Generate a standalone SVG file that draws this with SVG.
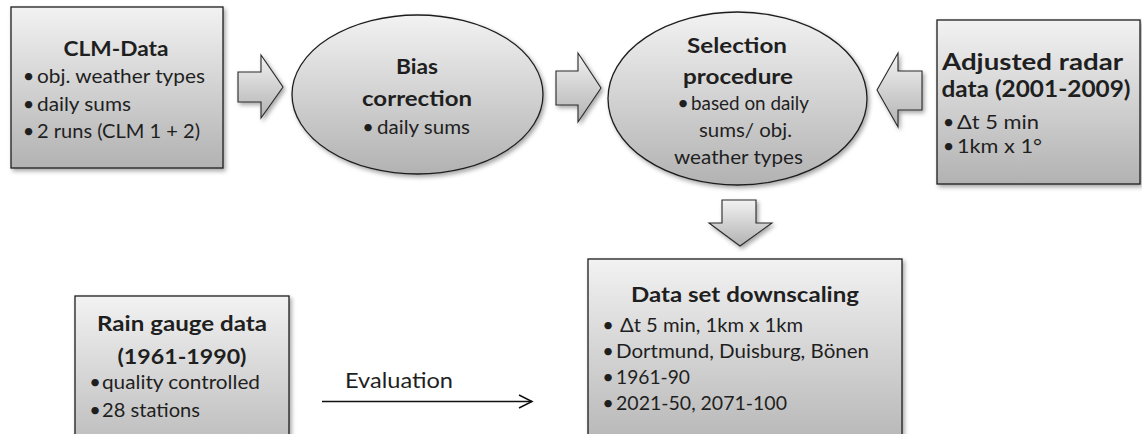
<svg xmlns="http://www.w3.org/2000/svg" width="1142" height="434" viewBox="0 0 1142 434">
<defs>
<linearGradient id="g" x1="0" y1="0" x2="0" y2="1">
<stop offset="0" stop-color="#f2f2f2"/>
<stop offset="1" stop-color="#b2b2b2"/>
</linearGradient>
<filter id="sh" x="-10%" y="-10%" width="125%" height="125%">
<feDropShadow dx="2" dy="2.5" stdDeviation="2" flood-color="#000" flood-opacity="0.35"/>
</filter>
</defs>
<style>
.shape{fill:url(#g);stroke:#1e1e1e;stroke-width:1.3;filter:url(#sh)}
.arr{fill:url(#g);stroke:#2a2a2a;stroke-width:1.1;filter:url(#sh)}
text{font-family:Lato,"Liberation Sans",sans-serif;fill:#1f1f1f}
.t{font-weight:bold;font-size:20px;text-anchor:middle}
.tr{font-weight:bold;font-size:23px;text-anchor:middle}
.b{font-size:18.5px}
.br{font-size:19.5px}
.d{font-size:20px;text-anchor:middle}
.ev{font-size:21px}
</style>
<rect width="1142" height="434" fill="#fff"/>

<g id="connectors">
<polygon class="arr" points="238,72 261,72 261,55 283,87 261,118 261,102 238,102"/>
<polygon class="arr" points="556,71 578,71 578,53 601,88 578,122 578,105 556,105"/>
<polygon class="arr" points="922,71 898,71 898,53 877,90 898,127 898,110 922,110"/>
<polygon class="arr" points="722,200 756,200 756,223 772,223 740,246 709,223 722,223"/>
<g id="evaluation">
<line x1="322" y1="401.5" x2="532" y2="401.5" stroke="#111" stroke-width="1.5"/>
<polyline points="519,395 532,401.5 519,408" fill="none" stroke="#111" stroke-width="1.5"/>
<text class="ev" x="345" y="388" textLength="108" lengthAdjust="spacingAndGlyphs">Evaluation</text>
</g>
</g>

<g id="clm">
<rect class="shape" x="11" y="7" width="212" height="161"/>
<text class="t" x="116" y="56" textLength="105" lengthAdjust="spacingAndGlyphs">CLM-Data</text>
<text class="d" x="28.5" y="83">•</text>
<text class="b" x="37" y="83" textLength="168" lengthAdjust="spacingAndGlyphs">obj. weather types</text>
<text class="d" x="28.5" y="111">•</text>
<text class="b" x="37" y="111" textLength="94" lengthAdjust="spacingAndGlyphs">daily sums</text>
<text class="d" x="28.5" y="138">•</text>
<text class="b" x="37" y="138" textLength="163" lengthAdjust="spacingAndGlyphs">2 runs (CLM 1 + 2)</text>
</g>

<g id="bias">
<ellipse class="shape" cx="417.5" cy="94.5" rx="125.5" ry="79.5"/>
<text class="t" x="417" y="74" textLength="42" lengthAdjust="spacingAndGlyphs">Bias</text>
<text class="t" x="417" y="106" textLength="110" lengthAdjust="spacingAndGlyphs">correction</text>
<text class="d" x="368" y="134">•</text>
<text class="b" x="377" y="134" textLength="93" lengthAdjust="spacingAndGlyphs">daily sums</text>
</g>

<g id="selection">
<ellipse class="shape" cx="737.5" cy="98.5" rx="129.5" ry="86.5"/>
<text class="t" x="737" y="53" textLength="100" lengthAdjust="spacingAndGlyphs">Selection</text>
<text class="t" x="738" y="84" textLength="110" lengthAdjust="spacingAndGlyphs">procedure</text>
<text class="d" x="683" y="110">•</text>
<text class="b" x="691" y="110" textLength="118" lengthAdjust="spacingAndGlyphs">based on daily</text>
<text class="b" x="699" y="137" textLength="93" lengthAdjust="spacingAndGlyphs">sums/ obj.</text>
<text class="b" x="674" y="164" textLength="129" lengthAdjust="spacingAndGlyphs">weather types</text>
</g>

<g id="radar">
<rect class="shape" x="937" y="20" width="203" height="164"/>
<text class="tr" x="1032.5" y="70" textLength="181" lengthAdjust="spacingAndGlyphs">Adjusted radar</text>
<text class="tr" x="1036" y="97" textLength="189" lengthAdjust="spacingAndGlyphs">data (2001-2009)</text>
<text class="d" x="948.5" y="129">•</text>
<text class="br" x="957" y="129" textLength="82" lengthAdjust="spacingAndGlyphs">Δt 5 min</text>
<text class="d" x="948.5" y="153">•</text>
<text class="br" x="957" y="153" textLength="85" lengthAdjust="spacingAndGlyphs">1km x 1°</text>
</g>

<g id="downscaling">
<rect class="shape" x="588" y="259" width="314" height="200"/>
<text class="t" x="745" y="302" textLength="228" lengthAdjust="spacingAndGlyphs">Data set downscaling</text>
<text class="d" x="608" y="332">•</text>
<text class="b" x="620" y="332" textLength="183" lengthAdjust="spacingAndGlyphs">Δt 5 min, 1km x 1km</text>
<text class="d" x="608" y="358">•</text>
<text class="b" x="616" y="358" textLength="253" lengthAdjust="spacingAndGlyphs">Dortmund, Duisburg, Bönen</text>
<text class="d" x="608" y="384">•</text>
<text class="b" x="616" y="384" textLength="74" lengthAdjust="spacingAndGlyphs">1961-90</text>
<text class="d" x="608" y="410">•</text>
<text class="b" x="616" y="410" textLength="171" lengthAdjust="spacingAndGlyphs">2021-50, 2071-100</text>
</g>

<g id="raingauge">
<rect class="shape" x="75" y="296" width="214" height="180"/>
<text class="t" x="182" y="331" textLength="170" lengthAdjust="spacingAndGlyphs">Rain gauge data</text>
<text class="t" x="182" y="364" textLength="129" lengthAdjust="spacingAndGlyphs">(1961-1990)</text>
<text class="d" x="95" y="389">•</text>
<text class="b" x="102" y="389" textLength="158" lengthAdjust="spacingAndGlyphs">quality controlled</text>
<text class="d" x="95" y="417">•</text>
<text class="b" x="102" y="417" textLength="98" lengthAdjust="spacingAndGlyphs">28 stations</text>
</g>
</svg>
